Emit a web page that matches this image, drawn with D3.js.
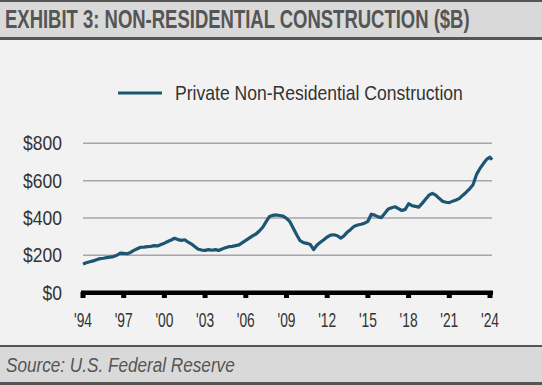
<!DOCTYPE html>
<html>
<head>
<meta charset="utf-8">
<script src="https://cdn.jsdelivr.net/npm/d3@7"></script>
<style>
  html, body { margin: 0; padding: 0; background: #f2f2f2; }
  svg { display: block; }
  text { font-family: "Liberation Sans", Arial, sans-serif; }
</style>
</head>
<body>
<div id="chart"></div>
<script>
"use strict";

var title = "EXHIBIT 3: NON-RESIDENTIAL CONSTRUCTION ($B)";
var source = "Source: U.S. Federal Reserve";
var seriesName = "Private Non-Residential Construction";

// quarterly readings, $B
var years = [];
for (var y = 1994; y <= 2024; y += 0.25) { years.push(y); }
years.push(2024.15);
var values = [
  153,160,165,170, 176,182,184,187, 190,193,200,212, 210,208,215,226,
  235,243,244,246, 248,252,250,258, 265,274,282,291, 284,280,283,270,
  260,246,232,228, 226,230,227,230, 226,234,240,246, 248,252,256,268,
  280,292,304,314, 330,350,380,408, 414,416,413,410, 398,380,345,310,
  278,268,264,258, 230,255,270,283, 298,308,310,305, 292,305,325,340,
  356,362,366,372, 382,420,415,406, 402,425,448,455, 460,450,440,446,
  476,466,462,458, 478,500,522,532, 522,505,490,484, 482,490,496,505,
  522,538,556,578, 632,664,690,714, 726,712
];
var yTicks = [0, 200, 400, 600, 800];
var xTicks = [1994, 1997, 2000, 2003, 2006, 2009, 2012, 2015, 2018, 2021, 2024];

var W = 542, H = 385;
var colors = {
  line: "#1d5673",
  band: "#d9d9d9",
  rule: "#555555",
  grid: "#a6a6a6",
  text: "#333333"
};

// narrow look: squeeze a text horizontally around its anchor point
function place(sel, px, py, sx) {
  sel.attr("x", 0).attr("y", 0)
    .attr("transform", "translate(" + px + "," + py + ") scale(" + sx + ",1)");
  return sel;
}
function widthOf(str, size, weight, style) {
  var t = svg.append("text")
    .attr("font-size", size)
    .attr("font-weight", weight || "normal")
    .attr("font-style", style || "normal")
    .text(str);
  var w = t.node().getComputedTextLength();
  t.remove();
  return w;
}

var svg = d3.select("#chart").append("svg")
  .attr("width", W)
  .attr("height", H);

svg.append("rect")
  .attr("width", W).attr("height", H)
  .attr("fill", "#f2f2f2");

// title band
svg.append("rect").attr("x", 0).attr("y", 1).attr("width", W).attr("height", 38).attr("fill", colors.band);
svg.append("rect").attr("x", 0).attr("y", 0).attr("width", W).attr("height", 2).attr("fill", colors.rule);
svg.append("rect").attr("x", 0).attr("y", 37).attr("width", W).attr("height", 3).attr("fill", colors.rule);
place(svg.append("text")
  .attr("font-size", 25).attr("font-weight", "bold")
  .attr("fill", "#555555")
  .text(title), 5, 28, 465 / widthOf(title, 25, "bold"));

// footer band
svg.append("rect").attr("x", 0).attr("y", 345).attr("width", W).attr("height", 39).attr("fill", colors.band);
svg.append("rect").attr("x", 0).attr("y", 345).attr("width", W).attr("height", 2).attr("fill", colors.rule);
svg.append("rect").attr("x", 0).attr("y", 382).attr("width", W).attr("height", 3).attr("fill", colors.rule);
place(svg.append("text")
  .attr("font-size", 21).attr("font-style", "italic")
  .attr("fill", "#555555")
  .text(source), 6, 372, 229 / widthOf(source, 21, "normal", "italic"));

var x = d3.scaleLinear().domain([1994, 2024]).range([83, 490]);
var yS = d3.scaleLinear().domain([0, 800]).range([292.6, 143.3]);

// gridlines
svg.append("g")
  .selectAll("line")
  .data(yTicks.filter(function(d) { return d > 0; }))
  .enter().append("line")
    .attr("x1", 83).attr("x2", 492)
    .attr("y1", function(d) { return yS(d); })
    .attr("y2", function(d) { return yS(d); })
    .attr("stroke", colors.grid)
    .attr("stroke-width", 1.5);

// y labels
var ySx = 39 / widthOf("$800", 20);
svg.append("g")
  .selectAll("text")
  .data(yTicks)
  .enter().append("text")
    .attr("text-anchor", "end")
    .attr("font-size", 20)
    .attr("fill", colors.text)
    .text(function(d) { return "$" + d; })
    .each(function(d) { place(d3.select(this), 62, yS(d) + 7, ySx); });

// x axis
var xAxis = svg.append("g");
xAxis.append("rect")
  .attr("x", 81).attr("y", 290.5)
  .attr("width", 412).attr("height", 4.5)
  .attr("fill", "#000");
xAxis.selectAll("rect.tick")
  .data(xTicks)
  .enter().append("rect")
    .attr("class", "tick")
    .attr("x", function(d) { return x(d) - 2.5; })
    .attr("y", 292)
    .attr("width", 5).attr("height", 6)
    .attr("fill", "#000");
var xSx = 18 / widthOf("'94", 20);
xAxis.selectAll("text")
  .data(xTicks)
  .enter().append("text")
    .attr("text-anchor", "middle")
    .attr("font-size", 20)
    .attr("fill", colors.text)
    .text(function(d) { return "'" + String(d).slice(2); })
    .each(function(d) { place(d3.select(this), x(d), 327, xSx); });

// series
var line = d3.line()
  .x(function(d, i) { return x(years[i]); })
  .y(function(d) { return yS(d); });
svg.append("path")
  .datum(values)
  .attr("d", line)
  .attr("fill", "none")
  .attr("stroke", colors.line)
  .attr("stroke-width", 3.2)
  .attr("stroke-linejoin", "round");

// legend
svg.append("line")
  .attr("x1", 118).attr("x2", 162)
  .attr("y1", 93).attr("y2", 93)
  .attr("stroke", colors.line)
  .attr("stroke-width", 3);
place(svg.append("text")
  .attr("font-size", 20)
  .attr("fill", colors.text)
  .text(seriesName), 175, 100, 288 / widthOf(seriesName, 20));
</script>
</body>
</html>
